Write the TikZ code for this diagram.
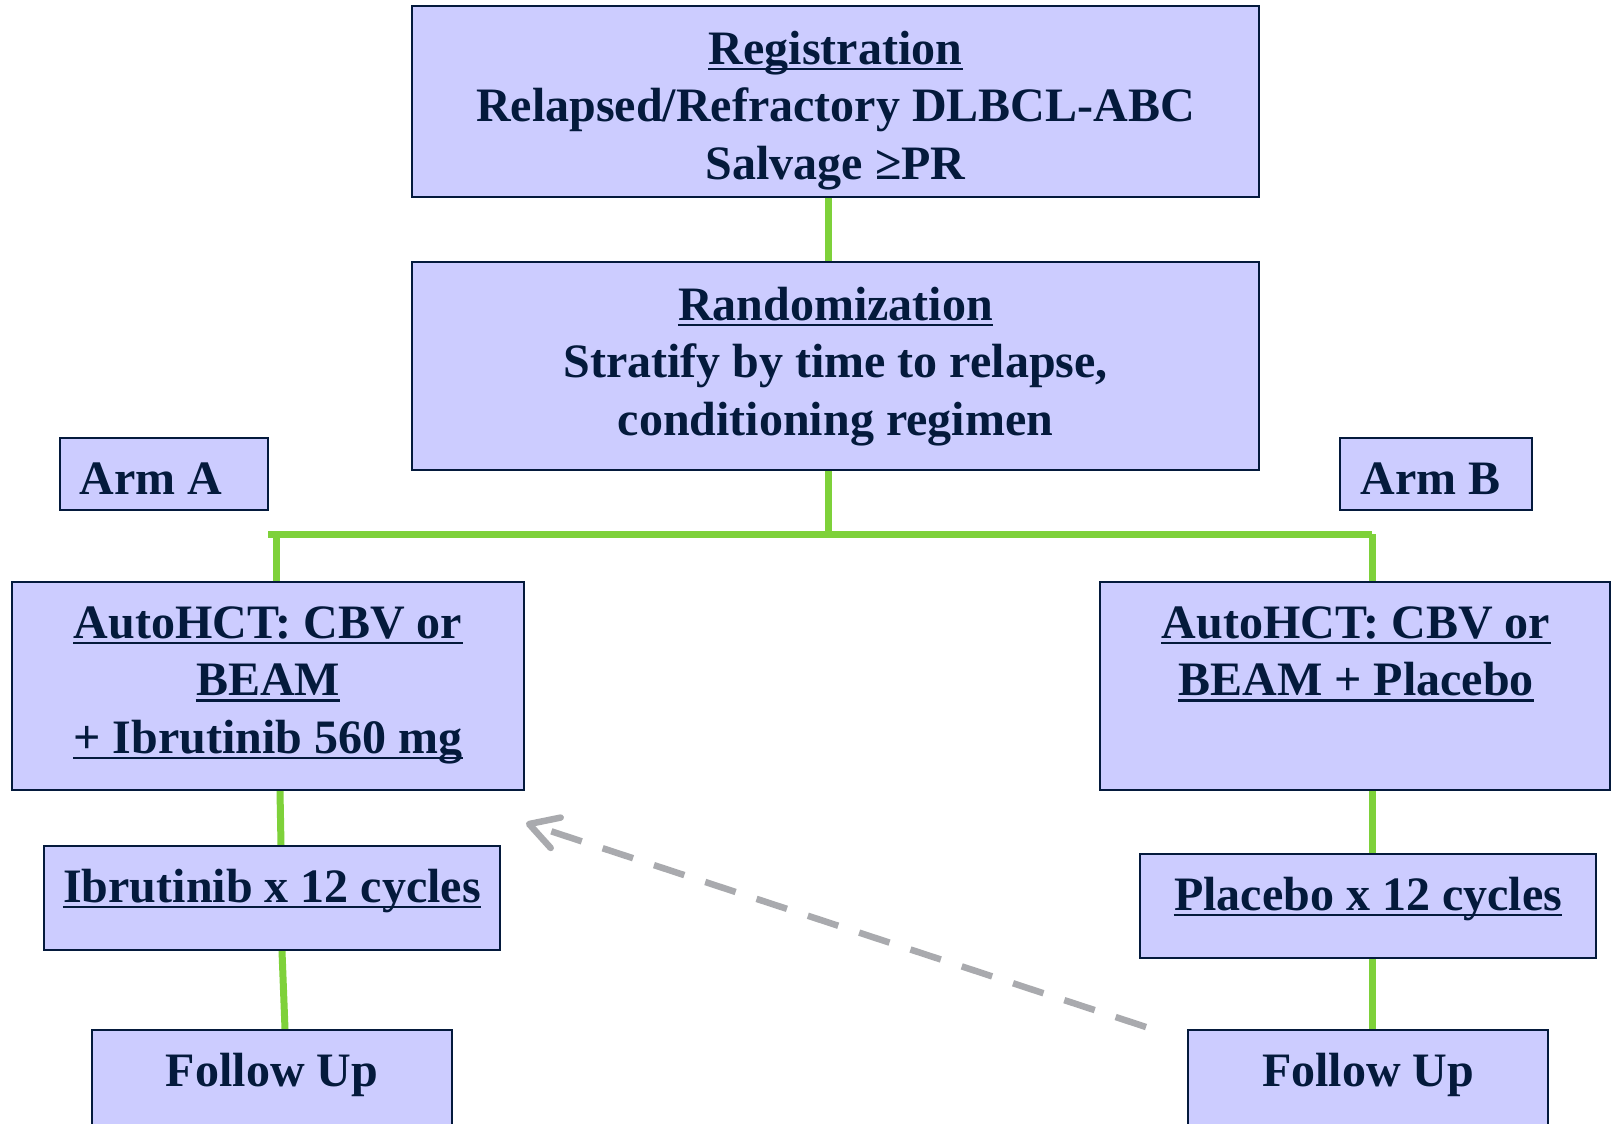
\documentclass[tikz,border=0pt]{standalone}
\usepackage{fontspec}
\setmainfont{Liberation Serif}
\usetikzlibrary{arrows.meta,calc,backgrounds}
\definecolor{ink}{RGB}{4,26,60}
\definecolor{lav}{RGB}{204,204,255}
\definecolor{lime}{RGB}{126,209,58}
\definecolor{ash}{RGB}{169,170,174}

\begin{document}
\begin{tikzpicture}[x=0.5pt,y=-0.5pt,
  box/.style={draw=ink, fill=lav, line width=1pt, inner sep=0pt, rectangle},
  txt/.style={text=ink, inner sep=0pt, anchor=base,
    font=\bfseries\fontsize{24pt}{28.8pt}\selectfont},
  txtl/.style={txt, anchor=base west},
  link/.style={draw=lime, line width=3.5pt},
  uline/.style={draw=ink, line width=1.25pt},
  back/.style={draw=ash, line width=3.25pt, dash pattern=on 16pt off 11pt,
    -{Straight Barb[length=14pt,width=16pt,round]}}
]
\useasboundingbox (0,0) rectangle (1612,1124);
\clip (0,0) rectangle (1612,1124);

% boxes
\node[box, minimum width=423.5pt, minimum height=95.5pt] (reg)   at (835.5,101.5) {};
\node[box, minimum width=423.5pt, minimum height=104pt]  (rand)  at (835.5,366) {};
\node[box, minimum width=104pt,   minimum height=36pt]   (armA)  at (164,474) {};
\node[box, minimum width=96pt,    minimum height=36pt]   (armB)  at (1436,474) {};
\node[box, minimum width=256pt,   minimum height=104pt]  (autoL) at (268,686) {};
\node[box, minimum width=255pt,   minimum height=104pt]  (autoR) at (1355,686) {};
\node[box, minimum width=228pt,   minimum height=52pt]   (ibr)   at (272,898) {};
\node[box, minimum width=228pt,   minimum height=52pt]   (plc)   at (1368,906) {};
\node[box, minimum width=180pt,   minimum height=60pt]   (fuL)   at (272,1090) {};
\node[box, minimum width=180pt,   minimum height=60pt]   (fuR)   at (1368,1090) {};

% texts
\node[txt] (reg1) at (835.5,64)    {Registration};
\node[txt] (reg2) at (835.5,121.6) {Relapsed/Refractory DLBCL-ABC};
\node[txt] (reg3) at (835.5,179.2) {Salvage ≥PR};

\node[txt] (rand1) at (835.5,320)   {Randomization};
\node[txt] (rand2) at (835.5,377.6) {Stratify by time to relapse,};
\node[txt] (rand3) at (835.5,435.2) {conditioning regimen};

\node[txtl] (armAt) at (79,494)   {Arm A};
\node[txtl] (armBt) at (1360,494) {Arm B};

\node[txt] (aL1) at (268,638)   {AutoHCT: CBV or};
\node[txt] (aL2) at (268,695.6) {BEAM};
\node[txt] (aL3) at (268,753.2) {+ Ibrutinib 560 mg};

\node[txt] (aR1) at (1356,638)   {AutoHCT: CBV or};
\node[txt] (aR2) at (1356,695.6) {BEAM + Placebo};

\node[txt] (ib1) at (272,902)  {Ibrutinib x 12 cycles};
\node[txt] (pl1) at (1368,910) {Placebo x 12 cycles};

\node[txt] (fuLt) at (272,1086)  {Follow Up};
\node[txt] (fuRt) at (1368,1086) {Follow Up};

% underlines
\foreach \n in {reg1,rand1,aL1,aL2,aL3,aR1,aR2,ib1,pl1}
  \draw[uline] ([yshift=-2.5pt]\n.base west) -- ([yshift=-2.5pt]\n.base east);

% green connectors behind the boxes
\begin{scope}[on background layer]
  \fill[white] (0,0) rectangle (1612,1124);
  \coordinate (j0)  at (828,534);
  \coordinate (jL)  at (268,534);
  \coordinate (jLv) at (276,534);
  \coordinate (jR)  at (1372,534);
  \draw[link] (reg.south -| j0) -- (rand.north -| j0);
  \draw[link] (rand.south -| j0) -- (j0);
  \draw[link] (jL) -- (jR);
  \draw[link] (jLv) -- (autoL.north -| jLv);
  \draw[link] (jR) -- (autoR.north -| jR);
  \draw[link] ($(autoL.south)+(12,0)$) -- ($(ibr.north)+(9,0)$);
  \draw[link] ($(ibr.south)+(10,0)$) -- ($(fuL.north)+(13,0)$);
  \draw[link] ($(autoR.south)+(17,0)$) -- ($(plc.north)+(4,0)$);
  \draw[link] ($(plc.south)+(4,0)$) -- ($(fuR.north)+(4,0)$);
\end{scope}

% dashed return arrow
\draw[back] ($(fuR.north west)+(-41,-2)$) -- ($(autoL.south east)+(1,32)$);
\end{tikzpicture}
\end{document}
